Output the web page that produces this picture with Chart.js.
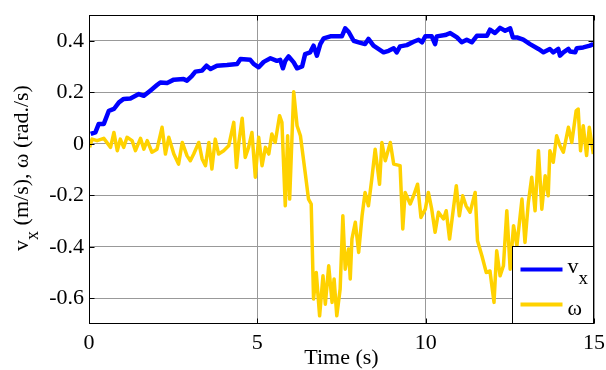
<!DOCTYPE html>
<html>
<head>
<meta charset="utf-8">
<script src="https://cdn.jsdelivr.net/npm/chart.js@4/dist/chart.umd.min.js"></script>
<style>
html, body { margin: 0; padding: 0; background: #fff; }
</style>
</head>
<body>
<canvas id="chart" width="606" height="370"></canvas>
<script>
// Values
const vxTime = [0.05, 0.19, 0.29, 0.44, 0.59, 0.74, 0.89, 1.03, 1.23, 1.48, 1.63, 1.82, 2.02, 2.12, 2.32, 2.52,
    2.81, 2.91, 3.06, 3.16, 3.36, 3.49, 3.61, 3.80, 4.10, 4.40, 4.50, 4.79, 4.89, 5.04, 5.19, 5.39, 5.58, 5.68,
    5.76, 5.83, 5.93, 6.08, 6.18, 6.33, 6.42, 6.57, 6.67, 6.77, 6.87, 6.97, 7.17, 7.51, 7.61, 7.71, 7.86, 8.01,
    8.20, 8.30, 8.45, 8.75, 8.90, 9.05, 9.14, 9.24, 9.44, 9.64, 9.79, 9.89, 9.99, 10.18, 10.28, 10.33, 10.58,
    10.73, 10.93, 11.07, 11.22, 11.37, 11.52, 11.82, 11.91, 12.06, 12.21, 12.36, 12.51, 12.59, 12.71, 12.90,
    13.10, 13.35, 13.50, 13.69, 13.79, 13.94, 13.99, 14.09, 14.24, 14.29, 14.44, 14.49, 14.68, 14.88, 14.98];
const vx = [0.038, 0.044, 0.077, 0.077, 0.128, 0.135, 0.161, 0.174, 0.176, 0.193, 0.186, 0.206, 0.228, 0.238,
    0.236, 0.249, 0.251, 0.245, 0.264, 0.280, 0.284, 0.303, 0.290, 0.303, 0.306, 0.310, 0.329, 0.326, 0.310,
    0.297, 0.318, 0.332, 0.322, 0.326, 0.293, 0.322, 0.339, 0.316, 0.293, 0.300, 0.348, 0.355, 0.381, 0.342,
    0.387, 0.409, 0.417, 0.417, 0.448, 0.435, 0.400, 0.394, 0.387, 0.407, 0.381, 0.355, 0.361, 0.371, 0.355,
    0.378, 0.383, 0.396, 0.404, 0.394, 0.417, 0.417, 0.387, 0.417, 0.422, 0.430, 0.413, 0.394, 0.404, 0.394,
    0.419, 0.419, 0.443, 0.430, 0.450, 0.439, 0.448, 0.413, 0.413, 0.404, 0.387, 0.368, 0.355, 0.368, 0.355,
    0.368, 0.342, 0.355, 0.368, 0.358, 0.355, 0.371, 0.374, 0.381, 0.387];

const wTime = [0.02, 0.09, 0.24, 0.44, 0.64, 0.74, 0.84, 0.93, 1.03, 1.13, 1.28, 1.38, 1.53, 1.63, 1.73, 1.87,
    2.02, 2.17, 2.27, 2.37, 2.52, 2.66, 2.77, 2.91, 3.01, 3.11, 3.26, 3.36, 3.46, 3.56, 3.65, 3.75, 3.85, 4.00,
    4.15, 4.30, 4.38, 4.45, 4.55, 4.64, 4.74, 4.84, 4.94, 5.04, 5.14, 5.24, 5.34, 5.43, 5.53, 5.66, 5.73, 5.83,
    5.90, 5.96, 6.08, 6.18, 6.28, 6.42, 6.52, 6.60, 6.67, 6.75, 6.85, 6.95, 7.02, 7.12, 7.22, 7.28, 7.36, 7.46,
    7.54, 7.61, 7.71, 7.76, 7.81, 7.91, 8.01, 8.11, 8.20, 8.30, 8.40, 8.50, 8.63, 8.70, 8.80, 8.95, 9.05, 9.24,
    9.32, 9.39, 9.54, 9.64, 9.76, 9.86, 9.99, 10.08, 10.18, 10.28, 10.38, 10.53, 10.61, 10.71, 10.81, 10.91,
    11.00, 11.10, 11.20, 11.32, 11.47, 11.54, 11.67, 11.80, 11.91, 12.03, 12.11, 12.21, 12.31, 12.41, 12.51,
    12.61, 12.71, 12.86, 12.95, 13.05, 13.15, 13.25, 13.35, 13.45, 13.55, 13.64, 13.69, 13.79, 13.89, 13.99,
    14.09, 14.24, 14.34, 14.47, 14.53, 14.60, 14.68, 14.78, 14.86, 14.98];
const omega = [-0.014, 0.018, 0.012, 0.021, -0.014, 0.044, -0.027, 0.018, -0.014, 0.025, 0.012, -0.027, 0.021,
    -0.021, 0.012, -0.033, -0.021, 0.064, -0.040, 0.025, -0.040, -0.079, 0.005, -0.046, -0.066, -0.040, 0.005,
    -0.059, -0.085, 0.005, -0.098, 0.018, -0.040, -0.027, -0.008, 0.083, -0.092, 0.005, 0.099, -0.053, -0.014,
    0.044, -0.130, 0.025, -0.085, -0.014, -0.040, 0.038, 0.005, 0.109, 0.083, -0.241, 0.031, -0.215, 0.202,
    0.070, 0.031, -0.111, -0.215, -0.234, -0.603, -0.500, -0.668, -0.513, -0.623, -0.474, -0.616, -0.525,
    -0.668, -0.564, -0.280, -0.487, -0.409, -0.525, -0.370, -0.305, -0.422, -0.280, -0.189, -0.241, -0.137,
    -0.021, -0.157, 0.005, -0.066, 0.005, -0.079, -0.085, -0.331, -0.189, -0.234, -0.202, -0.157, -0.286,
    -0.254, -0.189, -0.254, -0.344, -0.266, -0.292, -0.260, -0.370, -0.266, -0.163, -0.280, -0.202, -0.241,
    -0.266, -0.189, -0.377, -0.435, -0.500, -0.494, -0.616, -0.416, -0.513, -0.474, -0.260, -0.487, -0.318,
    -0.396, -0.215, -0.383, -0.228, -0.130, -0.260, -0.027, -0.254, -0.124, -0.202, -0.027, -0.072, 0.031,
    -0.008, -0.033, 0.064, 0.005, 0.128, 0.135, -0.027, 0.070, -0.046, 0.064, -0.040];

const xTicks = [0, 5, 10, 15];
const yTicks = [-0.6, -0.4, -0.2, 0, 0.2, 0.4];

const FONT = "'Liberation Serif', 'Times New Roman', serif";
const BLUE = '#0000ff';
const YELLOW = '#ffd200';

const toPoints = (xs, ys) => xs.map((x, i) => ({x: x, y: ys[i]}));

// frame with inward ticks, like the original figure
const framePlugin = {
    id: 'frame',
    afterDatasetsDraw(chart) {
        const {ctx, chartArea: a, scales} = chart;
        const L = Math.round(a.left) + 0.5, R = Math.round(a.right) - 0.5;
        const T = Math.round(a.top) + 0.5, B = Math.round(a.bottom) - 0.5;
        ctx.save();
        ctx.strokeStyle = '#000';
        ctx.lineWidth = 1;
        ctx.strokeRect(L, T, R - L, B - T);
        ctx.beginPath();
        xTicks.forEach(v => {
            const px = Math.round(scales.x.getPixelForValue(v)) + 0.5;
            ctx.moveTo(px, B); ctx.lineTo(px, B - 5);
            ctx.moveTo(px, T); ctx.lineTo(px, T + 5);
        });
        yTicks.forEach(v => {
            const py = Math.round(scales.y.getPixelForValue(v)) + 0.5;
            ctx.moveTo(L, py); ctx.lineTo(L + 5, py);
            ctx.moveTo(R, py); ctx.lineTo(R - 5, py);
        });
        ctx.stroke();
        ctx.restore();
    }
};

// y title with subscript and boxed legend drawn by hand
const labelPlugin = {
    id: 'labels',
    afterDraw(chart) {
        const {ctx, chartArea: a} = chart;
        ctx.save();
        ctx.fillStyle = '#000';
        ctx.textBaseline = 'alphabetic';

        // y axis title
        const parts = [
            {t: 'v', size: 22, dy: 0},
            {t: 'x', size: 18, dy: 10},
            {t: ' (m/s), \u03c9 (rad./s)', size: 22, dy: 0}
        ];
        let total = 0;
        parts.forEach(p => { ctx.font = p.size + 'px ' + FONT; p.w = ctx.measureText(p.t).width; total += p.w; });
        ctx.translate(28, 168);
        ctx.rotate(-Math.PI / 2);
        let x = -total / 2;
        parts.forEach(p => {
            ctx.font = p.size + 'px ' + FONT;
            ctx.fillText(p.t, x, p.dy);
            x += p.w;
        });
        ctx.setTransform(1, 0, 0, 1, 0, 0);

        // legend box
        const bw = 81, bh = 77;
        const bx = Math.round(a.right) - bw - 0.5, by = Math.round(a.bottom) - bh - 0.5;
        ctx.fillStyle = '#fff';
        ctx.fillRect(bx, by, bw, bh);
        ctx.strokeStyle = '#000';
        ctx.lineWidth = 1;
        ctx.strokeRect(bx, by, bw, bh);

        const sets = chart.data.datasets;
        const rows = [by + 23, by + 58];
        sets.forEach((ds, i) => {
            ctx.strokeStyle = ds.borderColor;
            ctx.lineWidth = 4;
            ctx.beginPath();
            ctx.moveTo(bx + 8, rows[i]);
            ctx.lineTo(bx + 50, rows[i]);
            ctx.stroke();
        });
        ctx.fillStyle = '#000';
        ctx.font = '22px ' + FONT;
        ctx.fillText('v', bx + 55, rows[0] + 3);
        ctx.font = '19px ' + FONT;
        ctx.fillText('x', bx + 66, rows[0] + 14);
        ctx.font = '22px ' + FONT;
        ctx.fillText('\u03c9', bx + 55, rows[1] + 10);
        ctx.restore();
    }
};

new Chart(document.getElementById('chart'), {
    type: 'line',
    data: {
        datasets: [
            {
                label: 'vx',
                data: toPoints(vxTime, vx),
                borderColor: BLUE,
                borderWidth: 4.5,
                pointRadius: 0,
                tension: 0,
                borderJoinStyle: 'round',
                order: 1
            },
            {
                label: '\u03c9',
                data: toPoints(wTime, omega),
                borderColor: YELLOW,
                borderWidth: 3.5,
                pointRadius: 0,
                tension: 0,
                borderJoinStyle: 'round',
                order: 0
            }
        ]
    },
    options: {
        responsive: false,
        animation: false,
        layout: { padding: { left: 0, top: 15, right: 12, bottom: 0 } },
        plugins: {
            legend: { display: false },
            tooltip: { enabled: false }
        },
        scales: {
            x: {
                type: 'linear',
                min: 0,
                max: 15,
                afterBuildTicks: s => { s.ticks = xTicks.map(v => ({value: v})); },
                afterFit: s => { s.height = 46; s.paddingLeft = 0; s.paddingRight = 0; },
                grid: { color: '#999', lineWidth: 1, drawTicks: false },
                border: { display: false },
                ticks: {
                    color: '#000',
                    padding: 6,
                    maxRotation: 0,
                    font: { family: FONT, size: 22 },
                    callback: v => String(v)
                },
                title: {
                    display: true,
                    text: 'Time (s)',
                    color: '#000',
                    padding: { top: 0, bottom: 0 },
                    font: { family: FONT, size: 22, lineHeight: 1.1 }
                }
            },
            y: {
                min: -0.7,
                max: 0.5,
                afterBuildTicks: s => { s.ticks = yTicks.map(v => ({value: v})); },
                afterFit: s => { s.width = 89; s.paddingTop = 0; s.paddingBottom = 0; },
                grid: { color: '#999', lineWidth: 1, drawTicks: false },
                border: { display: false },
                ticks: {
                    color: '#000',
                    padding: 5,
                    font: { family: FONT, size: 22 },
                    callback: v => (Math.abs(v) < 1e-9 ? '0' : v.toFixed(1))
                }
            }
        }
    },
    plugins: [framePlugin, labelPlugin]
});
</script>
</body>
</html>
